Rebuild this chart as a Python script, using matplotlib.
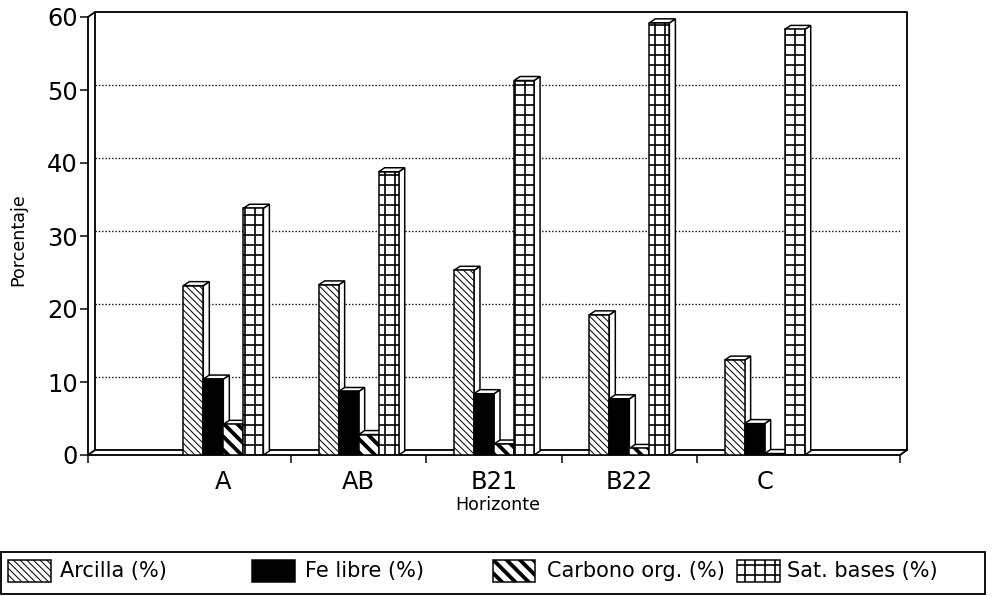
import numpy as np
import matplotlib.pyplot as plt
import matplotlib.transforms as mtransforms
from matplotlib.patches import Polygon, Rectangle
from matplotlib.lines import Line2D

horizontes = ["A", "AB", "B21", "B22", "C"]
arcilla = [23.2, 23.3, 25.3, 19.2, 13.0]
fe_libre = [10.4, 8.7, 8.4, 7.7, 4.3]
carbono = [4.2, 2.8, 1.5, 0.9, 0.2]
sat_bases = [33.8, 38.8, 51.3, 59.2, 58.3]
series_labels = ["Arcilla (%)", "Fe libre (%)", "Carbono org. (%)", "Sat. bases (%)"]
y_ticks = [0, 10, 20, 30, 40, 50, 60]

DPI = 120
W, H = 999, 596
AX_L, AX_B, AX_W, AX_H = 88, 455, 812, 438   # pixels, front plane
DX, DY = 7, 5                                 # wall depth (px)
BDX, BDY = 6, 4                               # bar depth (px)

fig = plt.figure(figsize=(W / DPI, H / DPI), dpi=DPI)
ax = fig.add_axes([AX_L / W, 1 - AX_B / H, AX_W / W, AX_H / H])
ax.set_xlim(0, 6)
ax.set_ylim(0, 60)
for s in ax.spines.values():
    s.set_visible(False)
ax.patch.set_visible(False)

shift = mtransforms.ScaledTranslation(DX / DPI, DY / DPI, fig.dpi_scale_trans)
back_axes = ax.transAxes + shift
back_data = ax.transData + shift

# back wall and front axes (3-D frame)
ax.plot([0, 0, 1, 1, 0], [0, 1, 1, 0, 0], transform=back_axes, color="k", lw=1.1, clip_on=False, zorder=1)
ax.plot([0, 0], [0, 1], transform=ax.transAxes, color="k", lw=1.1, clip_on=False, zorder=1)
ax.plot([0, 1], [0, 0], transform=ax.transAxes, color="k", lw=1.1, clip_on=False, zorder=1)
for fx, fy in [(AX_L, AX_B - AX_H), (AX_L + AX_W, AX_B), (AX_L, AX_B)]:
    fig.add_artist(Line2D([fx / W, (fx + DX) / W], [1 - fy / H, 1 - (fy - DY) / H],
                          transform=fig.transFigure, color="k", lw=1.1))

# dotted grid on back wall
for yv in y_ticks[1:-1]:
    ax.plot([0, 6], [yv, yv], transform=back_data, color="k", lw=0.8, ls=(0, (1, 1.5)), zorder=1)

# ticks
ax.set_yticks(y_ticks)
ax.set_yticklabels([str(v) for v in y_ticks], fontsize=14.5)
ax.tick_params(axis="y", direction="out", length=4.8, width=0.9, pad=1.2)
ax.set_xticks([0, 1.5, 2.5, 3.5, 4.5, 6])
ax.set_xticklabels([])
ax.tick_params(axis="x", which="major", direction="out", length=4.8, width=0.9)
x = np.arange(1, 6)
ax.set_xticks(x, minor=True)
ax.set_xticklabels(horizontes, minor=True, fontsize=14.5)
ax.tick_params(axis="x", which="minor", length=0, pad=9)

# 3-D bars
series = [arcilla, fe_libre, carbono, sat_bases]
hatches = ["\\\\\\\\\\\\", None, "\\\\\\", "++"]
faces = ["white", "black", "white", "white"]
hatch_lw = [0.6, 1.0, 2.3, 1.0]
w = 0.148
dxd = BDX / (AX_W / 6)
dyd = BDY / (AX_H / 60)
for i, (vals, hp, fc) in enumerate(zip(series, hatches, faces)):
    xs = x + (i - 1.5) * w
    z = 3 + i
    for xc, v in zip(xs, vals):
        xl, xr = xc - w / 2, xc + w / 2
        ax.add_patch(Polygon([(xr, 0), (xr + dxd, dyd), (xr + dxd, v + dyd), (xr, v)],
                             closed=True, fc="white", ec="k", lw=0.9, zorder=z))
        ax.add_patch(Polygon([(xl, v), (xl + dxd, v + dyd), (xr + dxd, v + dyd), (xr, v)],
                             closed=True, fc="white", ec="k", lw=0.9, zorder=z))
    with plt.rc_context({"hatch.linewidth": hatch_lw[i]}):
        bars = ax.bar(xs, vals, w, color=fc, hatch=hp, edgecolor="k", lw=0.9, zorder=z)
        for b in bars:
            if hasattr(b, "set_hatch_linewidth"):
                b.set_hatch_linewidth(hatch_lw[i])

# axis labels
fig.text(18 / W, 1 - 240 / H, "Porcentaje", rotation=90, ha="center", va="center", fontsize=10.5)
fig.text(498 / W, 1 - 505 / H, "Horizonte", ha="center", va="center", fontsize=10.5)

# legend box
fig.add_artist(Rectangle((1 / W, 1 - 594 / H), 984 / W, 42 / H, transform=fig.transFigure,
                         fill=False, ec="k", lw=1.1))
patch_x = [8, 252, 493, 737]
patch_w = [43, 43, 42, 43]
text_x = [60, 305, 547, 787]
for i, lab in enumerate(series_labels):
    with plt.rc_context({"hatch.linewidth": hatch_lw[i]}):
        p = Rectangle((patch_x[i] / W, 1 - 582 / H), patch_w[i] / W, 22 / H, transform=fig.transFigure,
                      fc=faces[i], ec="k", hatch=hatches[i], lw=0.9)
        if hasattr(p, "set_hatch_linewidth"):
            p.set_hatch_linewidth(hatch_lw[i])
    fig.add_artist(p)
    fig.text(text_x[i] / W, 1 - 571 / H, lab, ha="left", va="center", fontsize=12.5)

fig.savefig("out.png", dpi=DPI)
